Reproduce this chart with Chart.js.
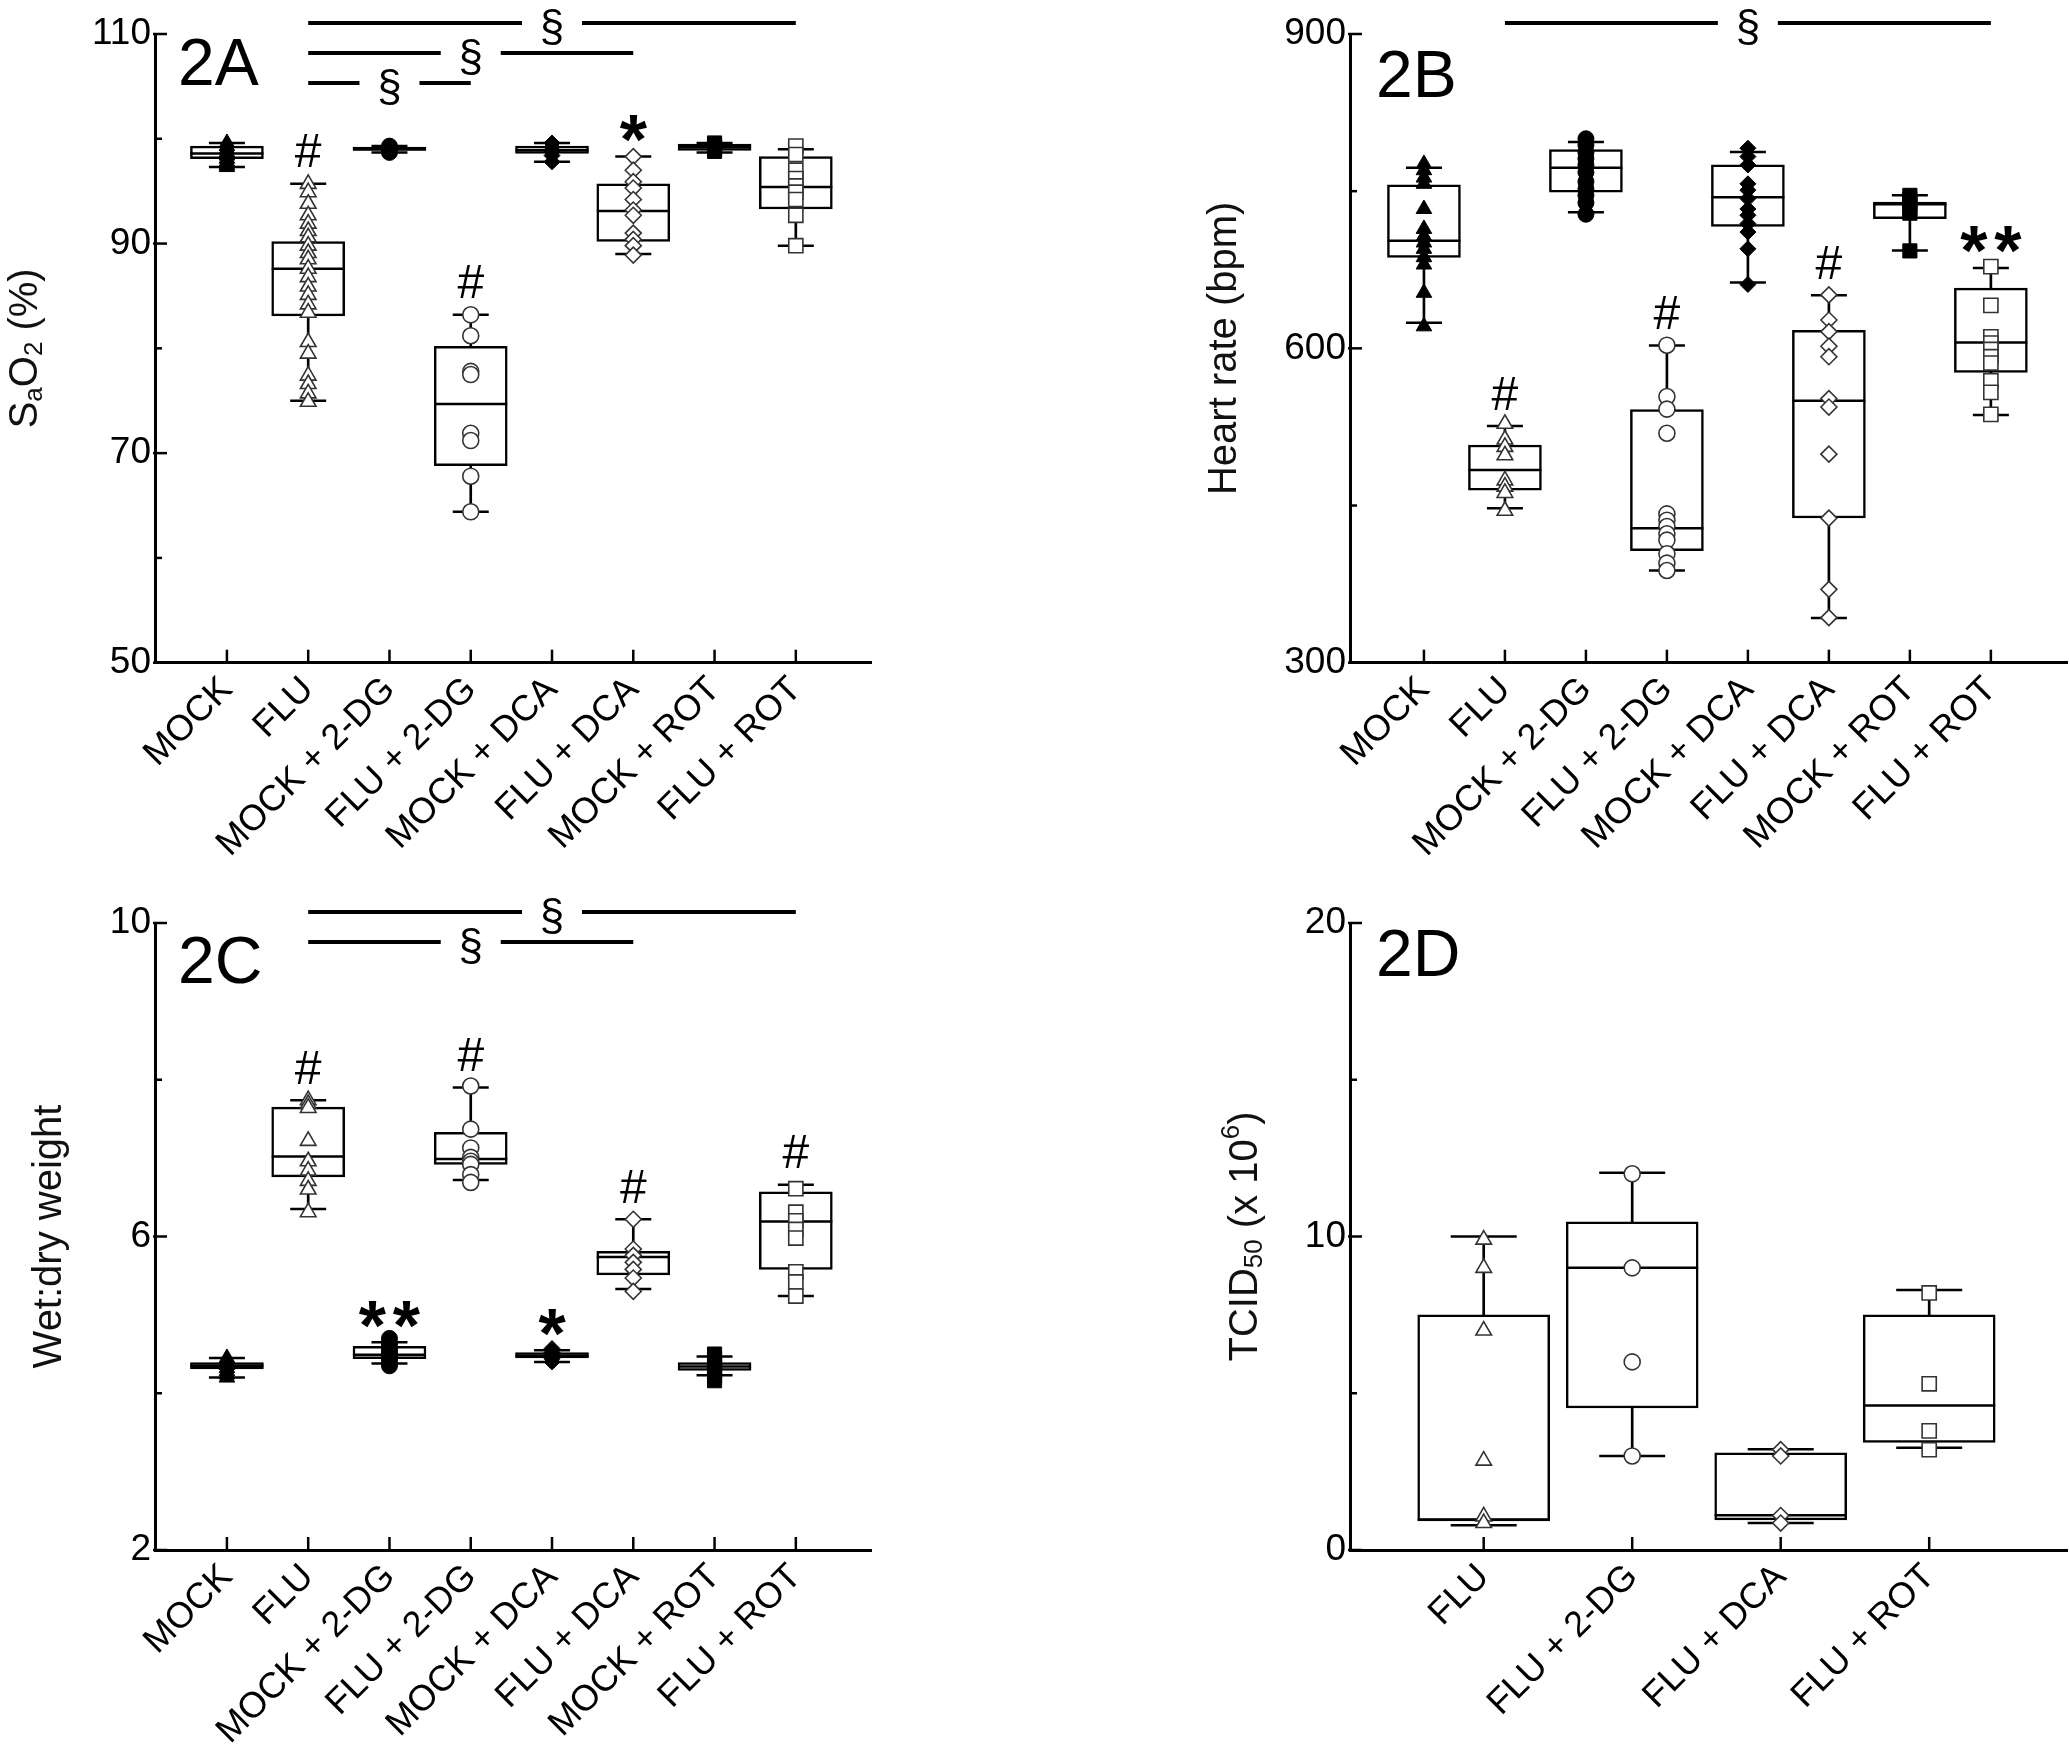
<!DOCTYPE html>
<html><head><meta charset="utf-8">
<script src="https://cdn.jsdelivr.net/npm/chart.js@4.4.1/dist/chart.umd.min.js"></script>
<style>
html,body{margin:0;padding:0;background:#fff;}
body{width:2070px;height:1753px;position:relative;overflow:hidden;}
canvas{position:absolute;}
</style></head><body>
<canvas id="cA" width="1000" height="870" style="left:0px;top:0px"></canvas>
<canvas id="cB" width="1070" height="870" style="left:1000px;top:0px"></canvas>
<canvas id="cC" width="1000" height="883" style="left:0px;top:870px"></canvas>
<canvas id="cD" width="1070" height="883" style="left:1000px;top:870px"></canvas>
<script>
// ---------- categories ----------
const groups8 = ['MOCK','FLU','MOCK + 2-DG','FLU + 2-DG','MOCK + DCA','FLU + DCA','MOCK + ROT','FLU + ROT'];
const groups4 = ['FLU','FLU + 2-DG','FLU + DCA','FLU + ROT'];

// ---------- y tick labels ----------
const sao2Ticks = [50, 70, 90, 110];
const sao2Minor = [60, 80, 100];
const hrTicks = [300, 600, 900];
const hrMinor = [450, 750];
const wdTicks = [2, 6, 10];
const wdMinor = [4, 8];
const tcidTicks = [0, 10, 20];
const tcidMinor = [5, 15];

// ---------- 2A  SaO2 (%) ----------
const sao2Q1     = [98.1, 83.1, 98.9, 68.8, 98.6, 90.2, 98.9, 93.3];
const sao2Median = [98.6, 87.6, 99.0, 74.7, 98.9, 93.1, 99.2, 95.4];
const sao2Q3     = [99.3, 90.2, 99.2, 80.2, 99.3, 95.7, 99.5, 98.3];
const sao2Low    = [97.3, 75.0, 98.7, 64.4, 97.8, 89.0, 98.7, 89.8];
const sao2High   = [99.6, 95.7, 99.3, 83.2, 99.6, 98.3, 99.6, 99.0];
const sao2Points = [
  [99.6, 99.3, 99.0, 98.7, 98.4, 98.1, 97.8, 97.5, 97.3],
  [95.7, 94.9, 93.8, 92.7, 91.9, 91.2, 90.6, 89.8, 89.1, 88.5, 87.6, 86.8, 85.9, 85.1, 84.2, 83.4, 80.6, 79.5, 77.4, 76.6, 75.7, 74.9],
  [99.3, 99.1, 98.9, 98.7],
  [83.2, 81.2, 77.8, 77.5, 71.9, 71.2, 67.8, 64.4],
  [99.6, 99.2, 98.8, 98.4, 97.8],
  [98.3, 97.0, 95.9, 95.3, 94.2, 93.2, 92.7, 91.0, 90.4, 89.8, 88.9],
  [99.6, 99.4, 99.2, 99.0, 98.8],
  [99.3, 98.5, 97.0, 96.2, 95.5, 94.9, 94.2, 92.7, 89.8]
];
const sao2Marks = ['', '#', '', '#', '', '*', '', ''];
const sao2Sig = [[2, 8], [2, 6], [2, 4]];

// ---------- 2B  Heart rate (bpm) ----------
const hrQ1     = [686.7, 464.6, 749.0, 406.9, 716.4, 438.1, 723.8, 577.1];
const hrMedian = [702.7, 483.8, 772.3, 428.2, 744.2, 550.1, 737.5, 605.7];
const hrQ3     = [756.0, 507.8, 789.8, 541.6, 775.2, 617.3, 739.6, 657.5];
const hrLow    = [624.5, 447.5, 729.8, 388.0, 662.8, 342.7, 693.4, 536.5];
const hrHigh   = [772.3, 525.8, 796.9, 602.7, 787.3, 650.6, 746.0, 676.7];
const hrPoints = [
  [776, 770, 763, 757, 733, 714, 707, 701, 695, 687, 680, 653, 621],
  [528, 513, 506, 498, 474, 468, 462, 445],
  [800, 794, 787, 781, 775, 768, 759, 752, 746, 739, 728],
  [603, 554, 542, 519, 442, 436, 430, 423, 417, 404, 395, 388],
  [791, 783, 775, 757, 751, 743, 733, 727, 719, 711, 695, 661],
  [651, 627, 616, 602, 592, 552, 544, 499, 438, 370, 343],
  [746, 742, 738, 733, 729, 693],
  [678, 641, 611, 605, 599, 592, 586, 569, 558, 537]
];
const hrMarks = ['', '#', '', '#', '', '#', '', '**'];
const hrSig = [[2, 8]];

// ---------- 2C  Wet:dry weight ----------
const wdQ1     = [4.31, 6.76, 4.44, 6.92, 4.45, 5.51, 4.29, 5.58];
const wdMedian = [4.35, 7.02, 4.49, 6.99, 4.48, 5.74, 4.34, 6.19];
const wdQ3     = [4.39, 7.65, 4.60, 7.33, 4.52, 5.81, 4.39, 6.57];
const wdLow    = [4.20, 6.35, 4.38, 6.72, 4.40, 5.33, 4.23, 5.24];
const wdHigh   = [4.45, 7.74, 4.65, 7.90, 4.55, 6.22, 4.47, 6.66];
const wdPoints = [
  [4.45, 4.40, 4.36, 4.32, 4.28, 4.24, 4.20],
  [7.74, 7.69, 7.64, 7.22, 6.96, 6.84, 6.71, 6.60, 6.31],
  [4.70, 4.64, 4.59, 4.55, 4.51, 4.47, 4.43, 4.38, 4.35],
  [7.92, 7.37, 7.13, 7.01, 6.96, 6.92, 6.79, 6.69],
  [4.57, 4.52, 4.48, 4.44, 4.40],
  [6.22, 5.84, 5.76, 5.67, 5.58, 5.47, 5.30],
  [4.50, 4.44, 4.38, 4.33, 4.28, 4.22, 4.16],
  [6.61, 6.31, 6.20, 6.09, 5.98, 5.55, 5.42, 5.24]
];
const wdMarks = ['', '#', '**', '#', '*', '#', '', '#'];
const wdSig = [[2, 8], [2, 6]];

// ---------- 2D  TCID50 (x 10^6) ----------
const tcidQ1     = [0.93, 4.53, 0.96, 3.43];
const tcidMedian = [0.97, 9.00, 1.11, 4.61];
const tcidQ3     = [7.50, 10.47, 3.10, 7.50];
const tcidLow    = [0.79, 3.00, 0.86, 3.26];
const tcidHigh   = [10.0, 12.03, 3.21, 8.29];
const tcidPoints = [
  [9.9, 9.0, 7.0, 2.85, 1.07, 0.86],
  [12.0, 9.0, 6.0, 3.0],
  [3.2, 3.0, 1.1, 0.86],
  [8.2, 5.3, 3.8, 3.2]
];
const tcidMarks = ['', '', '', ''];
const tcidSig = [];

// ---------- styling ----------
const FONT = "'Liberation Sans', Arial, sans-serif";
Chart.defaults.font.family = FONT;
Chart.defaults.color = '#000';
const shapes8 = ['triangle','triangle','circle','circle','rectRot','rectRot','rect','rect'];
const filled8 = [true,false,true,false,true,false,true,false];
const shapes4 = ['triangle','circle','rectRot','rect'];
const filled4 = [false,false,false,false];
const RADIUS = {triangle: 9, circle: 8, rectRot: 8, rect: 10};

function inkText(ctx, txt, x, yc) {
  const m = ctx.measureText(txt);
  const base = yc + (m.actualBoundingBoxAscent - m.actualBoundingBoxDescent) / 2;
  ctx.fillText(txt, x, base);
}

const decorPlugin = {
  id: 'decor',
  afterDraw(chart, args, o) {
    const ctx = chart.ctx, ca = chart.chartArea, xs = chart.scales.x, ys = chart.scales.y;
    ctx.save();
    ctx.strokeStyle = '#000'; ctx.fillStyle = '#000'; ctx.lineCap = 'butt';
    const seg = (x1, y1, x2, y2, w) => { ctx.lineWidth = w; ctx.beginPath(); ctx.moveTo(x1, y1); ctx.lineTo(x2, y2); ctx.stroke(); };
    // inward ticks
    o.majorY.forEach(v => { const y = ys.getPixelForValue(v); seg(ca.left - 2, y, ca.left + 12, y, 2.5); });
    o.minorY.forEach(v => { const y = ys.getPixelForValue(v); seg(ca.left, y, ca.left + 7, y, 2.5); });
    o.cats.forEach((c, i) => { const x = xs.getPixelForValue(i + 1); seg(x, ca.bottom, x, ca.bottom - 13, 2.5); });
    // panel label
    ctx.font = '66px ' + FONT; ctx.textAlign = 'left'; ctx.textBaseline = 'alphabetic';
    ctx.fillText(o.label, ca.left + o.labelDx, ca.top + o.labelDy);
    // y title with sub/superscripts
    ctx.save();
    ctx.translate(ca.left - o.titleDx, (ca.top + ca.bottom) / 2);
    ctx.rotate(-Math.PI / 2);
    ctx.textBaseline = 'middle'; ctx.textAlign = 'left';
    let total = 0;
    const widths = o.title.map(p => { ctx.font = (p.s ? 26 : 40) + 'px ' + FONT; const w = ctx.measureText(p.t).width; total += w; return w; });
    let tx = -total / 2;
    o.title.forEach((p, i) => {
      ctx.font = (p.s ? 26 : 40) + 'px ' + FONT;
      const dy = p.s === 'sub' ? 9 : (p.s === 'sup' ? -14 : 0);
      ctx.fillStyle = '#111';
      ctx.fillText(p.t, tx, dy);
      tx += widths[i];
    });
    ctx.restore();
    // significance marks above groups
    ctx.textAlign = 'center'; ctx.textBaseline = 'alphabetic';
    o.marks.forEach((m, i) => {
      if (!m) return;
      const x = xs.getPixelForValue(i + 1);
      const yh = ys.getPixelForValue(o.hi[i]);
      if (m === '#') { ctx.font = '48px ' + FONT; inkText(ctx, '#', x, yh - 33); }
      else if (m === '*') { ctx.font = 'bold 70px ' + FONT; inkText(ctx, '*', x, yh - 28); }
      else if (m === '**') { ctx.font = 'bold 70px ' + FONT; inkText(ctx, '*', x - 17, yh - 28); inkText(ctx, '*', x + 17, yh - 28); }
    });
    // § comparison bars
    o.sig.forEach((pair, k) => {
      const x1 = xs.getPixelForValue(pair[0]), x2 = xs.getPixelForValue(pair[1]);
      const y = ca.top - 11 + 30 * k, mid = (x1 + x2) / 2;
      seg(x1, y, mid - 30, y, 4); seg(mid + 30, y, x2, y, 4);
      ctx.font = '44px ' + FONT; inkText(ctx, '\u00A7', mid, y + 4);
    });
    ctx.restore();
  }
};
Chart.register(decorPlugin);

function makeChart(id, c) {
  const idx = c.cats.map((g, i) => i + 1);
  const ds = [];
  ds.push({type: 'bar', data: idx.map((x, i) => ({x, y: [c.lo[i], c.hi[i]]})), backgroundColor: '#000', borderWidth: 0, barThickness: 2, grouped: false, order: 5});
  ds.push({type: 'bar', data: idx.map((x, i) => ({x, y: [c.q1[i], c.q3[i]]})), backgroundColor: '#fff', borderColor: '#000', borderWidth: 2.5, borderSkipped: false, barThickness: c.boxW, grouped: false, order: 4});
  ds.push({type: 'scatter', data: idx.map((x, i) => ({x, y: c.med[i]})), pointStyle: 'line', pointRadius: c.medR, pointBorderColor: '#000', pointBorderWidth: 2.5, order: 3});
  ds.push({type: 'scatter', data: idx.flatMap((x, i) => [{x, y: c.lo[i]}, {x, y: c.hi[i]}]), pointStyle: 'line', pointRadius: c.capR, pointBorderColor: '#000', pointBorderWidth: 2.5, order: 3});
  c.pts.forEach((arr, i) => ds.push({
    type: 'scatter', data: arr.map(v => ({x: i + 1, y: v})), pointStyle: c.shapes[i], pointRadius: RADIUS[c.shapes[i]],
    pointBackgroundColor: c.filled[i] ? '#000' : '#fff', pointBorderColor: c.filled[i] ? '#000' : '#333',
    pointBorderWidth: c.filled[i] ? 1 : 1.6, order: 1
  }));
  return new Chart(document.getElementById(id), {
    type: 'bar',
    data: {datasets: ds},
    options: {
      responsive: false, animation: false, events: [], devicePixelRatio: 1,
      layout: {padding: c.pad, autoPadding: false},
      plugins: {legend: {display: false}, tooltip: {enabled: false},
        decor: {cats: c.cats, majorY: c.yTicks, minorY: c.yMinor, label: c.label, labelDx: c.labelDx, labelDy: c.labelDy,
                title: c.title, titleDx: c.titleDx, marks: c.marks, hi: c.hi, sig: c.sig}},
      scales: {
        x: {type: 'linear', min: c.xMin, max: c.xMax, offset: false,
            afterBuildTicks: s => { s.ticks = idx.map(v => ({value: v})); },
            afterFit: s => { s.height = c.xH; },
            ticks: {callback: v => c.cats[v - 1], autoSkip: false, minRotation: 45, maxRotation: 45, font: {size: 36}, color: '#000', padding: 6},
            grid: {display: false, drawTicks: false, offset: false},
            border: {display: true, color: '#000', width: 3}},
        y: {type: 'linear', min: c.yMin, max: c.yMax,
            afterBuildTicks: s => { s.ticks = c.yTicks.map(v => ({value: v})); },
            afterFit: s => { s.width = c.yW; },
            ticks: {font: {size: 37}, color: '#000', padding: 4},
            grid: {display: false, drawTicks: false},
            border: {display: true, color: '#000', width: 3}}
      }
    }
  });
}

makeChart('cA', {cats: groups8, q1: sao2Q1, med: sao2Median, q3: sao2Q3, lo: sao2Low, hi: sao2High, pts: sao2Points,
  shapes: shapes8, filled: filled8, yMin: 50, yMax: 110, yTicks: sao2Ticks, yMinor: sao2Minor,
  xMin: 0.115, xMax: 8.925, boxW: 73, medR: 36.5, capR: 18,
  pad: {top: 34, left: 0, right: 129, bottom: 0}, yW: 155, xH: 207.3,
  label: '2A', labelDx: 23, labelDy: 51, titleDx: 129,
  title: [{t: 'S'}, {t: 'a', s: 'sub'}, {t: 'O'}, {t: '2', s: 'sub'}, {t: ' (%)'}],
  marks: sao2Marks, sig: sao2Sig});

makeChart('cB', {cats: groups8, q1: hrQ1, med: hrMedian, q3: hrQ3, lo: hrLow, hi: hrHigh, pts: hrPoints,
  shapes: shapes8, filled: filled8, yMin: 300, yMax: 900, yTicks: hrTicks, yMinor: hrMinor,
  xMin: 0.087, xMax: 8.94, boxW: 73, medR: 36.5, capR: 18,
  pad: {top: 34, left: 0, right: 3, bottom: 0}, yW: 350, xH: 207.3,
  label: '2B', labelDx: 26, labelDy: 63, titleDx: 125,
  title: [{t: 'Heart rate (bpm)'}],
  marks: hrMarks, sig: hrSig});

makeChart('cC', {cats: groups8, q1: wdQ1, med: wdMedian, q3: wdQ3, lo: wdLow, hi: wdHigh, pts: wdPoints,
  shapes: shapes8, filled: filled8, yMin: 2, yMax: 10, yTicks: wdTicks, yMinor: wdMinor,
  xMin: 0.115, xMax: 8.925, boxW: 73, medR: 36.5, capR: 18,
  pad: {top: 53, left: 0, right: 129, bottom: 0}, yW: 155, xH: 203,
  label: '2C', labelDx: 23, labelDy: 60, titleDx: 105,
  title: [{t: 'Wet:dry weight'}],
  marks: wdMarks, sig: wdSig});

makeChart('cD', {cats: groups4, q1: tcidQ1, med: tcidMedian, q3: tcidQ3, lo: tcidLow, hi: tcidHigh, pts: tcidPoints,
  shapes: shapes4, filled: filled4, yMin: 0, yMax: 20, yTicks: tcidTicks, yMinor: tcidMinor,
  xMin: 0.0997, xMax: 4.928, boxW: 132, medR: 66, capR: 33,
  pad: {top: 53, left: 0, right: 3, bottom: 0}, yW: 350, xH: 203,
  label: '2D', labelDx: 26, labelDy: 53, titleDx: 104,
  title: [{t: 'TCID'}, {t: '50', s: 'sub'}, {t: ' (x 10'}, {t: '6', s: 'sup'}, {t: ')'}],
  marks: tcidMarks, sig: tcidSig});
</script>
</body></html>
